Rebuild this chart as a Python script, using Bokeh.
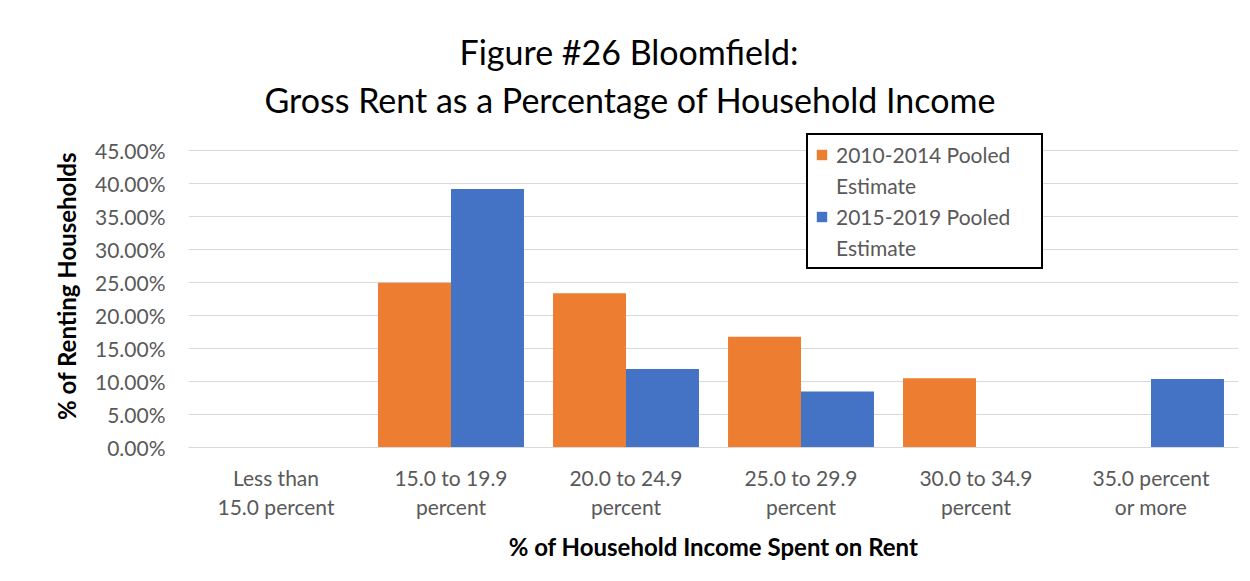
from bokeh.plotting import figure
from bokeh.models import (ColumnDataSource, FactorRange, Range1d, Legend, LegendItem,
                          PrintfTickFormatter, SingleIntervalTicker, Title)
from bokeh.transform import dodge
from bokeh.embed import file_html
from bokeh.resources import INLINE

categories = ["Less than\n15.0 percent", "15.0 to 19.9\npercent", "20.0 to 24.9\npercent",
              "25.0 to 29.9\npercent", "30.0 to 34.9\npercent", "35.0 percent\nor more"]
series_2010_2014 = [0.0, 25.0, 23.4, 16.8, 10.5, 0.0]
series_2015_2019 = [0.0, 39.2, 11.9, 8.5, 0.0, 10.4]
series_names = ["2010-2014 Pooled\nEstimate", "2015-2019 Pooled\nEstimate"]
title_lines = ["Figure #26  Bloomfield:", "Gross Rent as a Percentage of Household Income"]
y_label = "% of Renting Households"
x_label = "% of Household Income Spent on Rent"
colors = ["#ED7D31", "#4472C4"]

FONT = "Lato"

source = ColumnDataSource(dict(cat=categories, a=series_2010_2014, b=series_2015_2019))

p = figure(x_range=FactorRange(*categories), y_range=Range1d(0, 49), title=None,
           width=1242, height=573, output_backend="svg", toolbar_location=None,
           min_border_left=188, min_border_right=4, min_border_top=124, min_border_bottom=126)

# title: second line nearest to the plot, first line above it
t2 = Title(text=title_lines[1], align="left", offset=76, standoff=9,
           text_font=FONT, text_font_size="34px", text_font_style="normal", text_color="#000000")
t1 = Title(text=title_lines[0], align="left", offset=271, standoff=1,
           text_font=FONT, text_font_size="34px", text_font_style="normal", text_color="#000000")
p.add_layout(t2, "above")
p.add_layout(t1, "above")

bw = 0.417
r1 = p.vbar(x=dodge("cat", -bw / 2, range=p.x_range), top="a", width=bw, source=source,
            fill_color=colors[0], line_color=None)
r2 = p.vbar(x=dodge("cat", bw / 2, range=p.x_range), top="b", width=bw, source=source,
            fill_color=colors[1], line_color=None)
# invisible helper renderer for the wrapped second line of each legend entry
blank = p.scatter(x=[], y=[], alpha=0)

p.outline_line_color = None
p.xgrid.grid_line_color = None
p.ygrid.grid_line_color = "#D9D9D9"
p.ygrid.grid_line_width = 1.2

p.yaxis.ticker = SingleIntervalTicker(interval=5)
p.yaxis.formatter = PrintfTickFormatter(format="%.2f%%")
p.yaxis.axis_line_color = None
p.yaxis.major_tick_line_color = None
p.yaxis.minor_tick_line_color = None
p.yaxis.major_label_standoff = 17
p.yaxis.major_label_text_font = FONT
p.yaxis.major_label_text_font_size = "21px"
p.yaxis.major_label_text_color = "#595959"
p.yaxis.axis_label = y_label
p.yaxis.axis_label_text_font = FONT
p.yaxis.axis_label_text_font_size = "24px"
p.yaxis.axis_label_text_font_style = "bold"
p.yaxis.axis_label_text_color = "#000000"
p.yaxis.axis_label_standoff = 11

p.xaxis.axis_line_color = "#D9D9D9"
p.xaxis.axis_line_width = 1.2
p.xaxis.major_tick_line_color = None
p.xaxis.minor_tick_line_color = None
p.xaxis.major_label_standoff = 11
p.xaxis.major_label_text_font = FONT
p.xaxis.major_label_text_font_size = "21px"
p.xaxis.major_label_text_color = "#595959"
p.xaxis.major_label_text_line_height = 1.16
p.xaxis.axis_label = x_label
p.xaxis.axis_label_text_font = FONT
p.xaxis.axis_label_text_font_size = "24px"
p.xaxis.axis_label_text_font_style = "bold"
p.xaxis.axis_label_text_color = "#000000"
p.xaxis.axis_label_standoff = 10

n1 = series_names[0].split("\n")
n2 = series_names[1].split("\n")
legend = Legend(items=[LegendItem(label=n1[0], renderers=[r1]),
                       LegendItem(label=n1[1], renderers=[blank]),
                       LegendItem(label=n2[0], renderers=[r2]),
                       LegendItem(label=n2[1], renderers=[blank])],
                location=(618, 178))
legend.border_line_color = "#000000"
legend.border_line_alpha = 1
legend.border_line_width = 2
legend.background_fill_color = "white"
legend.background_fill_alpha = 1
legend.label_text_font = FONT
legend.label_text_font_size = "21px"
legend.label_text_color = "#595959"
legend.glyph_width = 13
legend.glyph_height = 13
legend.label_height = 21
legend.label_width = 198
legend.label_standoff = 8
legend.padding = 7
legend.spacing = 6
legend.margin = 0
p.add_layout(legend)

open("out.html", "w").write(file_html(p, INLINE))
